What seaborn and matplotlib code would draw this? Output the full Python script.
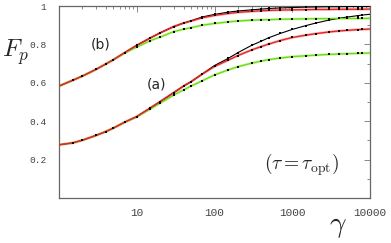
import numpy as np
import pandas as pd
import seaborn as sns
import matplotlib
matplotlib.use("Agg")
from matplotlib import pyplot as plt
from matplotlib.ticker import FixedLocator, NullFormatter

# gamma values where the curves are sampled (1 and 10000 are only line ends)
gamma = [1, 1.5, 2, 3, 4, 5, 7, 10, 15, 20, 30, 40, 50, 70, 100, 150, 200, 300,
         400, 500, 700, 1000, 1500, 2000, 3000, 4000, 5000, 7000, 8000, 10000]

a_black = [0.277, 0.287, 0.301, 0.326, 0.346, 0.364, 0.395, 0.424, 0.469, 0.502,
           0.549, 0.583, 0.606, 0.646, 0.690, 0.727, 0.757, 0.795, 0.817, 0.835,
           0.857, 0.878, 0.898, 0.911, 0.927, 0.936, 0.942, 0.950, 0.953, 0.957]
a_red = [0.277, 0.287, 0.301, 0.326, 0.346, 0.364, 0.395, 0.424, 0.469, 0.502,
         0.549, 0.583, 0.606, 0.646, 0.685, 0.718, 0.742, 0.771, 0.789, 0.802,
         0.820, 0.836, 0.848, 0.856, 0.865, 0.870, 0.873, 0.877, 0.878, 0.880]
a_green = [0.277, 0.287, 0.301, 0.326, 0.346, 0.364, 0.395, 0.422, 0.464, 0.494,
           0.537, 0.563, 0.583, 0.611, 0.641, 0.667, 0.684, 0.702, 0.713, 0.721,
           0.729, 0.736, 0.741, 0.744, 0.748, 0.750, 0.752, 0.753, 0.754, 0.755]

b_black = [0.583, 0.613, 0.635, 0.670, 0.698, 0.720, 0.757, 0.795, 0.834, 0.860,
           0.893, 0.911, 0.923, 0.943, 0.956, 0.968, 0.974, 0.980, 0.984, 0.987,
           0.990, 0.992, 0.994, 0.995, 0.996, 0.996, 0.997, 0.997, 0.997, 0.997]
b_red = [0.583, 0.613, 0.635, 0.670, 0.698, 0.720, 0.757, 0.795, 0.834, 0.860,
         0.893, 0.911, 0.922, 0.939, 0.951, 0.961, 0.967, 0.972, 0.975, 0.977,
         0.979, 0.980, 0.981, 0.982, 0.982, 0.983, 0.983, 0.983, 0.983, 0.984]
b_green = [0.583, 0.613, 0.635, 0.670, 0.698, 0.720, 0.755, 0.786, 0.820, 0.838,
           0.867, 0.879, 0.887, 0.900, 0.909, 0.917, 0.922, 0.926, 0.928, 0.929,
           0.931, 0.932, 0.933, 0.934, 0.934, 0.935, 0.935, 0.935, 0.935, 0.936]

ytick_vals = [0.2, 0.4, 0.6, 0.8, 1.0]
ytick_labels = ["0.2", "0.4", "0.6", "0.8", "1"]
xtick_vals = [10, 100, 1000, 10000]
xtick_labels = ["10", "100", "1000", "10000"]

sns.set_style("white")
plt.rcParams["mathtext.fontset"] = "cm"

fig = plt.figure(figsize=(3.91, 2.43), dpi=100)
ax = fig.add_axes([59 / 391, 45 / 243, 311 / 391, 192 / 243])

styles = {
    "black": dict(color="black", lw=0.8, halo=None),
    "green": dict(color="#66dd11", lw=0.9, halo="#cdf5a5"),
    "red": dict(color="#e82020", lw=0.9, halo="#f7b0b0"),
}

for vals, key in [(a_black, "black"), (b_black, "black"), (a_green, "green"),
                  (b_green, "green"), (a_red, "red"), (b_red, "red")]:
    st = styles[key]
    df = pd.DataFrame({"gamma": gamma, "F": vals})
    if st["halo"]:
        sns.lineplot(data=df, x="gamma", y="F", ax=ax, color=st["halo"], lw=1.9,
                     zorder=2)
    sns.lineplot(data=df, x="gamma", y="F", ax=ax, color=st["color"], lw=st["lw"],
                 zorder=3)
    # sampled points (skip the line ends)
    sns.scatterplot(data=df.iloc[1:-1], x="gamma", y="F", ax=ax, color="black",
                    marker="s", s=3.5, linewidth=0, zorder=4)

ax.set_xscale("log")
ax.set_xlim(1, 10000)
ax.set_ylim(0, 1)
ax.set_xlabel("")
ax.set_ylabel("")

ax.xaxis.set_major_locator(FixedLocator(xtick_vals))
ax.set_xticklabels(xtick_labels, family="Liberation Mono", fontsize=8, color="#444444")
ax.xaxis.set_minor_locator(matplotlib.ticker.LogLocator(base=10, subs=np.arange(2, 10)))
ax.xaxis.set_minor_formatter(NullFormatter())
ax.yaxis.set_major_locator(FixedLocator(ytick_vals))
ax.set_yticklabels(ytick_labels, family="Liberation Mono", fontsize=6.8, color="#444444")
ax.yaxis.set_minor_locator(FixedLocator(np.arange(0.1, 1.0, 0.2)))

ax.tick_params(which="both", direction="in", top=True, right=True, color="#777777",
               width=0.6)
ax.tick_params(which="major", length=4)
ax.tick_params(which="minor", length=2)
ax.tick_params(axis="y", which="major", pad=9)
ax.tick_params(axis="x", which="major", pad=7)
for sp in ax.spines.values():
    sp.set_color("#666666")
    sp.set_linewidth(0.9)

ax.text(3.47, 0.80, "(b)", fontsize=10, ha="center", va="center",
        family="DejaVu Sans")
ax.text(17.7, 0.592, "(a)", fontsize=10, ha="center", va="center",
        family="DejaVu Sans")
ax.text(1334, 0.171, r"$(\tau = \tau_{\rm opt})$", fontsize=14, ha="center",
        va="center")

fig.text(2 / 391, 1 - 52 / 243, r"$F_p$", fontsize=18, ha="left", va="center")
fig.text(338 / 391, 1 - 226 / 243, r"$\gamma$", fontsize=21, ha="center",
         va="center")

fig.savefig("out.png", dpi=100)
